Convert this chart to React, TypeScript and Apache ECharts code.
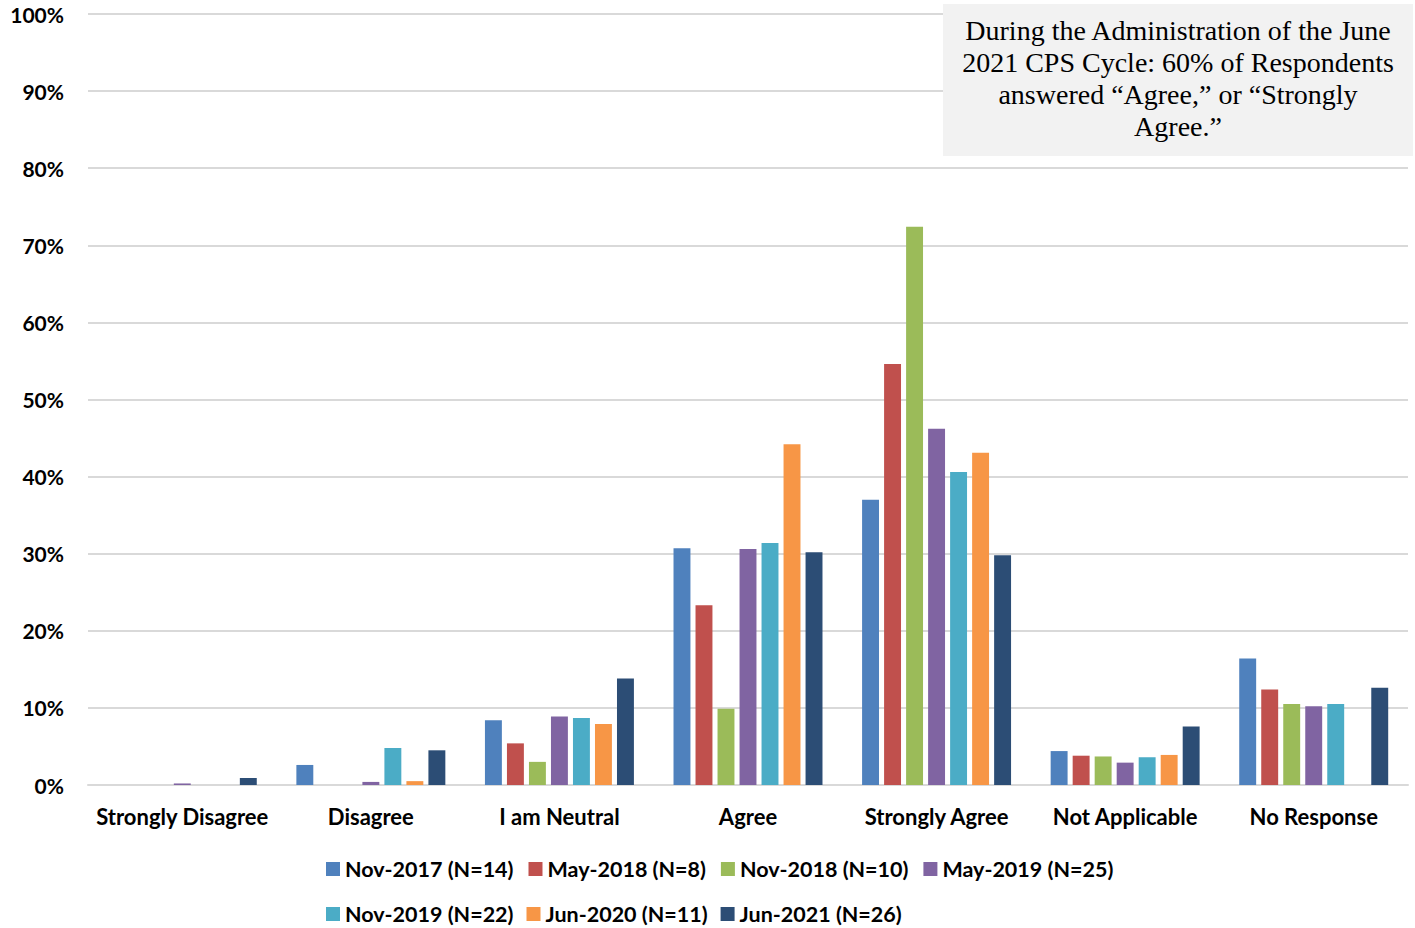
import React, { useEffect, useRef } from "react";
import * as echarts from "echarts";

const categories = ["Strongly Disagree", "Disagree", "I am Neutral", "Agree", "Strongly Agree", "Not Applicable", "No Response"];
const seriesNames = ["Nov-2017 (N=14)", "May-2018 (N=8)", "Nov-2018 (N=10)", "May-2019 (N=25)", "Nov-2019 (N=22)", "Jun-2020 (N=11)", "Jun-2021 (N=26)"];
const colors = ["#4F81BD", "#C0504D", "#9BBB59", "#8064A2", "#4BACC6", "#F79646", "#2C4D75"];

const nov2017 = [0, 2.6, 8.4, 30.7, 37.0, 4.4, 16.4];
const may2018 = [0, 0, 5.4, 23.3, 54.6, 3.8, 12.4];
const nov2018 = [0, 0, 3.0, 9.9, 72.4, 3.7, 10.5];
const may2019 = [0.2, 0.4, 8.9, 30.6, 46.2, 2.9, 10.2];
const nov2019 = [0, 4.8, 8.7, 31.4, 40.6, 3.6, 10.5];
const jun2020 = [0, 0.5, 7.9, 44.2, 43.1, 3.9, 0];
const jun2021 = [0.9, 4.5, 13.8, 30.2, 29.8, 7.6, 12.6];
const seriesData = [nov2017, may2018, nov2018, may2019, nov2019, jun2020, jun2021];

const yTicks = ["0%", "10%", "20%", "30%", "40%", "50%", "60%", "70%", "80%", "90%", "100%"];
const noteLines = [
  "During the Administration of the June",
  "2021 CPS Cycle: 60% of Respondents",
  "answered \u201cAgree,\u201d or \u201cStrongly",
  "Agree.\u201d",
];

const FONT = "Lato";

export default function App() {
  const ref = useRef<HTMLDivElement>(null);
  useEffect(() => {
    if (!ref.current) return;
    const chart = echarts.init(ref.current, undefined, { renderer: "svg" });
    const legendText = { fontFamily: FONT, fontWeight: "bold" as const, fontSize: 21.5, color: "#000" };
    chart.setOption({
      animation: false,
      backgroundColor: "#fff",
      grid: { left: 88, right: 7, top: 14, bottom: 143, containLabel: false },
      xAxis: {
        type: "category",
        data: categories,
        axisLine: { lineStyle: { color: "#D9D9D9", width: 2 } },
        axisTick: { show: false },
        axisLabel: { interval: 0, margin: 20, fontFamily: FONT, fontWeight: "bold", fontSize: 22, color: "#000" },
      },
      yAxis: {
        type: "value",
        min: 0,
        max: 100,
        interval: 10,
        axisLabel: {
          margin: 24,
          fontFamily: FONT,
          fontWeight: "bold",
          fontSize: 21,
          color: "#000",
          formatter: (v: number) => yTicks[Math.round(v / 10)],
        },
        splitLine: { lineStyle: { color: "#D9D9D9", width: 2 } },
        axisLine: { show: false },
        axisTick: { show: false },
      },
      legend: [
        {
          data: seriesNames.slice(0, 4),
          left: 321,
          top: 853,
          itemWidth: 14,
          itemHeight: 14,
          itemGap: 15,
          icon: "rect",
          textStyle: legendText,
          selectedMode: false,
        },
        {
          data: seriesNames.slice(4),
          left: 321,
          top: 898,
          itemWidth: 14,
          itemHeight: 14,
          itemGap: 13,
          icon: "rect",
          textStyle: legendText,
          selectedMode: false,
        },
      ],
      series: seriesNames.map((name, i) => ({
        name,
        type: "bar",
        data: seriesData[i],
        barGap: "30%",
        barCategoryGap: "21%",
        itemStyle: { color: colors[i] },
      })),
      graphic: [
        {
          type: "rect",
          left: 943,
          top: 4,
          z: 100,
          shape: { width: 470, height: 152 },
          style: { fill: "#F2F2F2" },
        },
        ...noteLines.map((t, i) => ({
          type: "text",
          x: 1178,
          y: 30 + i * 32,
          z: 101,
          style: {
            text: t,
            fontFamily: "Liberation Serif",
            fontSize: 28,
            fill: "#000",
            align: "center",
            verticalAlign: "middle",
          },
        })),
      ],
    });
    return () => chart.dispose();
  }, []);
  return <div ref={ref} style={{ position: "fixed", left: 0, top: 0, width: 1415, height: 928 }} />;
}
